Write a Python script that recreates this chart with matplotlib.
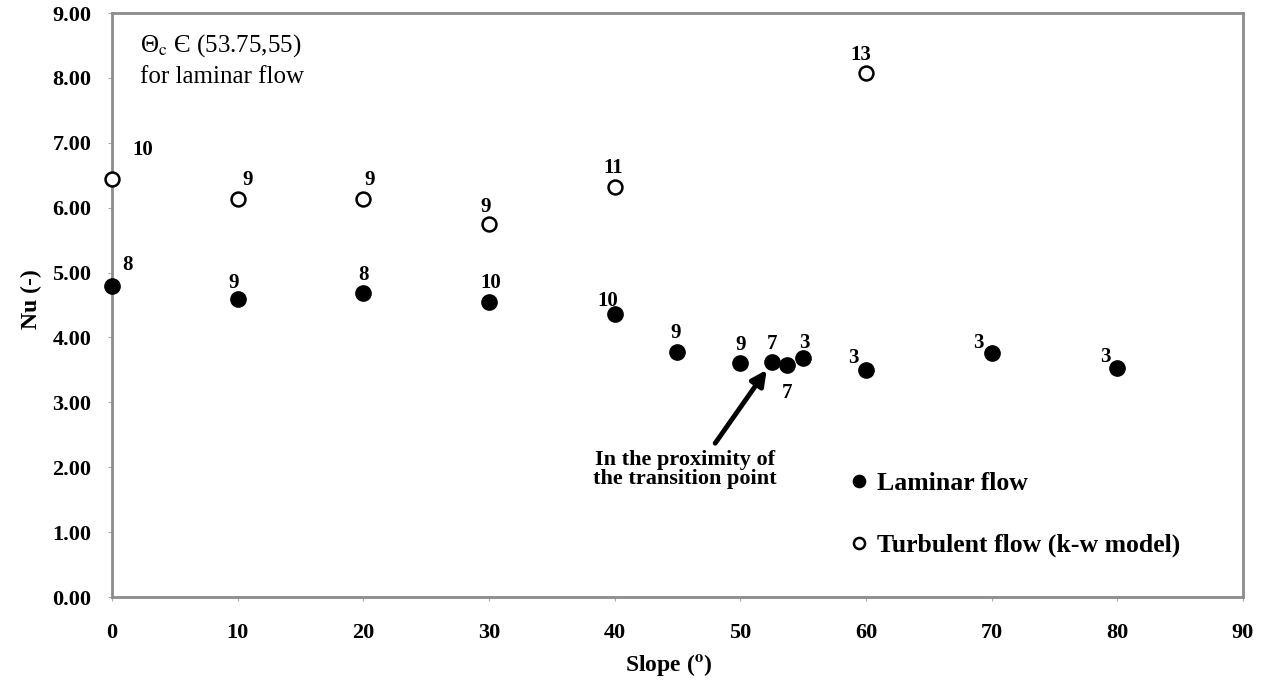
import matplotlib
matplotlib.use('Agg')
import matplotlib.pyplot as plt

plt.rcParams['font.family'] = ['Liberation Serif', 'DejaVu Serif']
plt.rcParams['mathtext.fontset'] = 'stix'

# Laminar flow (filled markers)
lam_slope = [0, 10, 20, 30, 40, 45, 50, 52.5, 53.75, 55, 60, 70, 80]
lam_nu = [4.80, 4.59, 4.68, 4.55, 4.36, 3.78, 3.60, 3.62, 3.57, 3.68, 3.50, 3.76, 3.53]
lam_labels = ['8', '9', '8', '10', '10', '9', '9', '7', '7', '3', '3', '3', '3']

# Turbulent flow, k-w model (open markers)
turb_slope = [0, 10, 20, 30, 40, 60]
turb_nu = [6.44, 6.13, 6.13, 5.75, 6.32, 8.07]
turb_labels = ['10', '9', '9', '9', '11', '13']

x_ticks = [0, 10, 20, 30, 40, 50, 60, 70, 80, 90]
y_ticks = [0, 1, 2, 3, 4, 5, 6, 7, 8, 9]

# label offsets in pixels (dx, dy), relative to each marker
lam_offsets = [(15, 21), (-4, 16), (0, 18), (2, 19), (-7, 13), (-2, 19), (0, 18),
               (0, 18), (0, -28), (1, 15), (-13, 12), (-13, 10), (-12, 11)]
turb_offsets = [(31, 29), (10, 19), (6, 19), (-3, 17), (-1, 19), (-5, 18)]

fig = plt.figure(figsize=(12.7, 6.89), dpi=100)
ax = fig.add_axes([0.0882, 0.1335, 0.8905, 0.8476])

ax.plot(lam_slope, lam_nu, 'o', color='black', ms=11, label='Laminar flow',
        linestyle='none', clip_on=False, zorder=3)
ax.plot(turb_slope, turb_nu, 'o', mfc='white', mec='black', mew=1.8, ms=10,
        label='Turbulent flow (k-w model)', linestyle='none', clip_on=False, zorder=3)

for x, y, s, (dx, dy) in zip(lam_slope, lam_nu, lam_labels, lam_offsets):
    ax.annotate(s, (x, y), xytext=(dx, dy), textcoords='offset pixels',
                ha='center', va='center', fontsize=15, fontweight='bold')
for x, y, s, (dx, dy) in zip(turb_slope, turb_nu, turb_labels, turb_offsets):
    ax.annotate(s, (x, y), xytext=(dx, dy), textcoords='offset pixels',
                ha='center', va='center', fontsize=15, fontweight='bold')

ax.set_xlim(0, 90)
ax.set_ylim(0, 9)
ax.set_xticks(x_ticks)
ax.set_yticks(y_ticks)
ax.set_yticklabels([f'{v:.2f}' for v in y_ticks])
ax.tick_params(axis='both', direction='out', length=3, color='#aaaaaa', labelsize=16)
ax.tick_params(axis='y', pad=12)
ax.tick_params(axis='x', pad=16)
for lbl in ax.get_xticklabels() + ax.get_yticklabels():
    lbl.set_fontweight('bold')
for sp in ax.spines.values():
    sp.set_color('#8c8c8c')
    sp.set_linewidth(2)

ax.set_xlabel('Slope ($^{\\mathbf{o}}$)', fontsize=17, fontweight='bold')
ax.set_ylabel('Nu (-)', fontsize=17, fontweight='bold')
ax.xaxis.set_label_coords(0.492, -0.094)
ax.yaxis.set_label_coords(-0.062, 0.51)

ax.text(0.025, 0.967, 'Θ$_{\\rm c}$ Є (53.75,55)\nfor laminar flow', transform=ax.transAxes,
        ha='left', va='top', fontsize=18, linespacing=1.4)

ax.annotate('', xy=(52.1, 3.50), xytext=(48.0, 2.37),
            arrowprops=dict(arrowstyle='-|>,head_length=0.9,head_width=0.45',
                            color='black', lw=3.5, shrinkA=0, shrinkB=0))
ax.text(45.6, 1.96, 'In the proximity of\nthe transition point', ha='center', va='center',
        fontsize=16, fontweight='bold', linespacing=0.95)

ax.legend(loc='upper left', bbox_to_anchor=(0.651, 0.214), frameon=False,
          prop={'weight': 'bold', 'size': 18.5}, handlelength=0.8, handletextpad=0.3,
          labelspacing=1.5, borderpad=0, borderaxespad=0, markerscale=0.8)

fig.savefig('out.png', dpi=100)
